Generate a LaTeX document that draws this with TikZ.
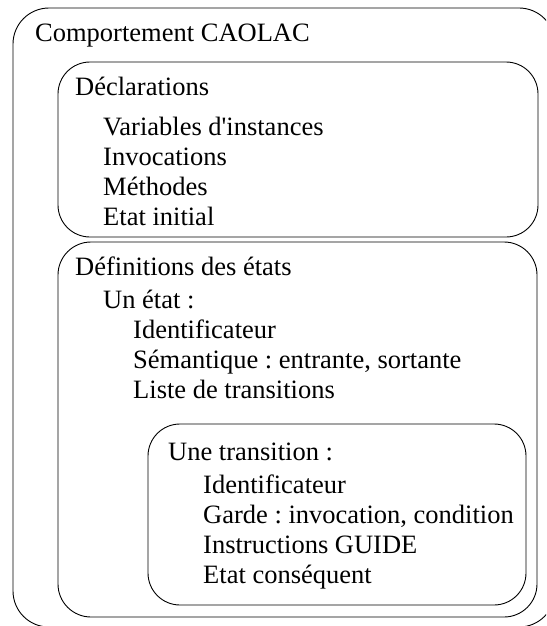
\documentclass[tikz,border=0pt]{standalone}
\usepackage{fontspec}
\setmainfont{Liberation Serif}
\frenchspacing
\begin{document}
\begin{tikzpicture}[x=1pt,y=-1pt,
  boxline/.style={draw=black,line width=0.9pt},
  txt/.style={anchor=base west,inner sep=0pt,font=\fontsize{26.5}{30}\selectfont}]
\useasboundingbox (0,0) rectangle (546,626);
\clip (0,0) rectangle (546,626);
% boxes
\draw[boxline,rounded corners=36pt] (13,8) rectangle (555,627);
\draw[boxline,rounded corners=32pt] (58,62) rectangle (538,237);
\draw[boxline,rounded corners=33pt] (58,242) rectangle (537,617);
\draw[boxline,rounded corners=32pt] (148,424) rectangle (526,605);
% texts
\node[txt] (t0) at (35,42) {Comportement CAOLAC};
\node[txt] (d0) at (75,95) {Déclarations};
\node[txt] (d1) at (103,135) {Variables d\textquotesingle instances};
\node[txt] (d2) at (103,165) {Invocations};
\node[txt] (d3) at (103,195) {Méthodes};
\node[txt] (d4) at (103,225) {Etat initial};
\node[txt] (e0) at (75,275) {Définitions des états};
\node[txt] (e1) at (103,308) {Un état :};
\node[txt] (e2) at (133,338) {Identificateur};
\node[txt] (e3) at (133,368) {Sémantique : entrante, sortante};
\node[txt] (e4) at (133,398) {Liste de transitions};
\node[txt] (u0) at (168,460) {Une transition :};
\node[txt] (u1) at (203,493) {Identificateur};
\node[txt] (u2) at (203,523) {Garde : invocation, condition};
\node[txt] (u3) at (203,553) {Instructions GUIDE};
\node[txt] (u4) at (203,583) {Etat conséquent};
\end{tikzpicture}
\end{document}
